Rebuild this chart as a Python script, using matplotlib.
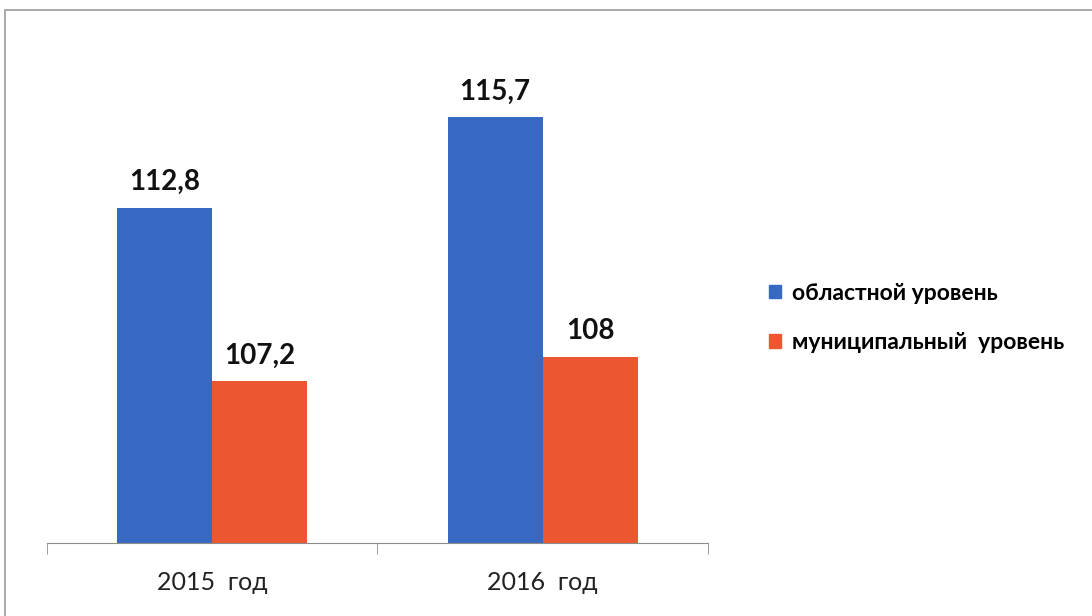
import matplotlib.pyplot as plt
from matplotlib.patches import Rectangle, Patch
import numpy as np

# data
years = ["2015  год", "2016  год"]
regional = [112.8, 115.7]
municipal = [107.2, 108]
regional_labels = ["112,8", "115,7"]
municipal_labels = ["107,2", "108"]
series_names = ["областной уровень", "муниципальный  уровень"]

blue = "#3869C2"
orange = "#EC5731"
fonts = ["Lato", "DejaVu Sans"]

fig = plt.figure(figsize=(10.92, 6.16), dpi=100)
fig.patch.set_facecolor("white")

# outer frame of the chart (runs off the right and bottom edges)
fig.patches.append(Rectangle((5 / 1092, -0.05), 1.2, (616 - 10) / 616 + 0.05,
                             transform=fig.transFigure, fill=False,
                             edgecolor="#9a9a9a", linewidth=1.2))

ax = fig.add_axes([47 / 1092, (616 - 543) / 616, (708 - 47) / 1092, (543 - 46) / 616])

x = np.arange(len(years))
w = 0.288
b1 = ax.bar(x - w / 2, regional, w, color=blue, label=series_names[0])
b2 = ax.bar(x + w / 2, municipal, w, color=orange, label=series_names[1])

ax.set_ylim(102, 118)
ax.set_xlim(-0.5, 1.5)

for rect, txt in zip(b1, regional_labels):
    ax.text(rect.get_x() + rect.get_width() / 2, rect.get_height() + 0.4, txt,
            ha="center", va="bottom", fontsize=20, fontweight="bold", family=fonts, color="#111111")
for rect, txt in zip(b2, municipal_labels):
    ax.text(rect.get_x() + rect.get_width() / 2, rect.get_height() + 0.4, txt,
            ha="center", va="bottom", fontsize=20, fontweight="bold", family=fonts, color="#111111")

for s in ["left", "top", "right"]:
    ax.spines[s].set_visible(False)
ax.spines["bottom"].set_color("#8c8c8c")
ax.set_yticks([])
ax.set_xticks(x)
ax.set_xticklabels(years, fontsize=18, family=fonts, color="#222222")
ax.tick_params(axis="x", which="major", length=0, pad=20)
ax.set_xticks([-0.5, 0.5, 1.5], minor=True)
ax.tick_params(axis="x", which="minor", length=8, color="#8c8c8c")

handles = [Patch(color=blue), Patch(color=orange)]
fig.legend(handles, series_names, loc="center left", bbox_to_anchor=(748 / 1092, 1 - 318 / 616),
           frameon=False, handlelength=0.55, handleheight=0.55, handletextpad=0.45,
           labelspacing=1.25, prop={"family": fonts, "weight": "bold", "size": 16.5})

fig.savefig("out.png", dpi=100)
